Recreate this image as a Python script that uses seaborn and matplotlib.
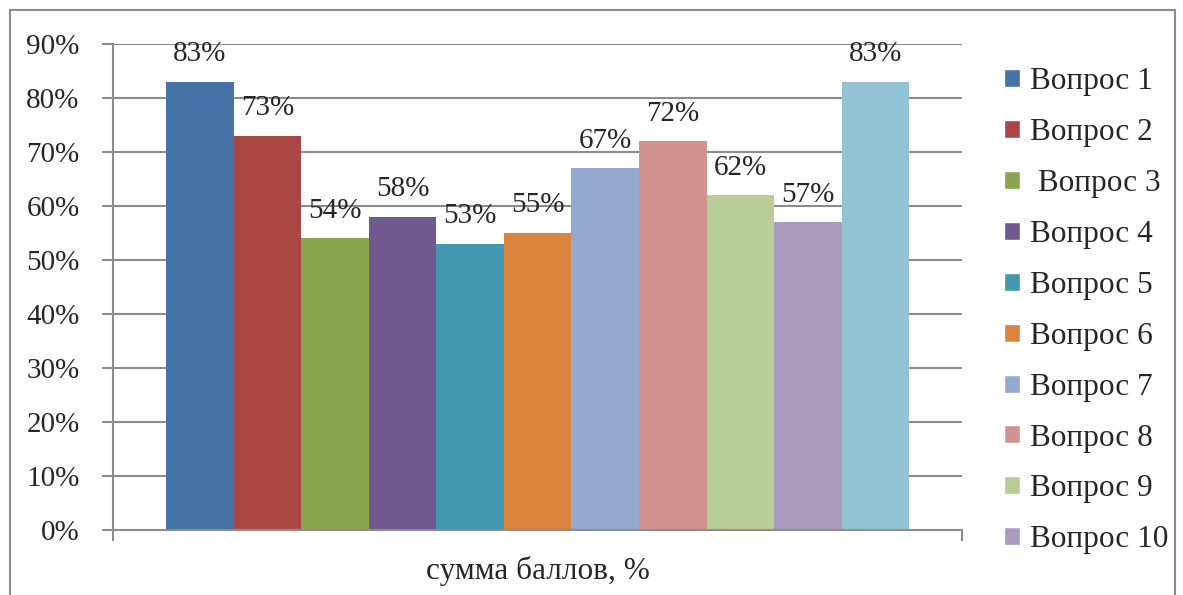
import matplotlib
matplotlib.use("Agg")
import matplotlib.pyplot as plt
import seaborn as sns
import pandas as pd
from matplotlib.patches import Patch, Rectangle

questions = ["Вопрос 1", "Вопрос 2", " Вопрос 3", "Вопрос 4", "Вопрос 5", "Вопрос 6",
             "Вопрос 7", "Вопрос 8", "Вопрос 9", "Вопрос 10", "Вопрос 11"]
values = [0.83, 0.73, 0.54, 0.58, 0.53, 0.55, 0.67, 0.72, 0.62, 0.57, 0.83]
colors = ["#4572A7", "#AA4643", "#89A54E", "#71588F", "#4198AF", "#DB843D",
          "#93A9CF", "#D19392", "#B9CD96", "#A99BBD", "#92C3D5"]
category = "сумма баллов, %"
yticks = [0, 0.1, 0.2, 0.3, 0.4, 0.5, 0.6, 0.7, 0.8, 0.9]

df = pd.DataFrame({"cat": [category] * len(questions), "q": questions, "v": values})

sns.set_style("white")
plt.rcParams["font.family"] = ["Liberation Serif", "DejaVu Serif"]
fs = 21
fs_big = 22.5

fig = plt.figure(figsize=(11.83, 5.95), dpi=100)
ax = fig.add_axes([0.0955, 0.109, 0.718, 0.817])

sns.barplot(data=df, x="cat", y="v", hue="q", palette=colors, width=0.875,
            saturation=1, legend=False, ax=ax, edgecolor="none")

for c in ax.containers:
    ax.bar_label(c, labels=[f"{v:.0%}" for v in c.datavalues], padding=10.5, fontsize=fs)

ax.set_ylim(0, 0.9)
ax.set_xlim(-0.5, 0.5)
ax.set_yticks(yticks)
ax.set_yticklabels([f"{t:.0%}" for t in yticks], fontsize=fs)
ax.yaxis.grid(True, color="#8c8c8c", linewidth=1.5)
ax.set_axisbelow(True)
ax.set_xticks([-0.5, 0.5])
ax.set_xticklabels(["", ""])
ax.tick_params(axis="both", direction="out", length=8, width=1.5, color="#8c8c8c",
               bottom=True, left=True)
ax.tick_params(axis="y", pad=16)
ax.set_xlabel(category, fontsize=fs_big, labelpad=7)
ax.set_ylabel("")
for s in ["top", "right"]:
    ax.spines[s].set_visible(False)
for s in ["left", "bottom"]:
    ax.spines[s].set_color("#8c8c8c")
    ax.spines[s].set_linewidth(1.5)

handles = [Patch(facecolor=colors[i], label=questions[i]) for i in range(10)]
fig.legend(handles=handles, loc="upper left", bbox_to_anchor=(0.825, 0.934),
           frameon=False, fontsize=fs_big, handlelength=0.51, handleheight=0.51,
           handletextpad=0.33, labelspacing=0.70, borderpad=0.4)

fig.add_artist(Rectangle((0.0085, -0.02), 0.985, 1.003, transform=fig.transFigure,
                         fill=False, edgecolor="#8c8c8c", linewidth=1.5))

fig.savefig("out.png", dpi=100)
